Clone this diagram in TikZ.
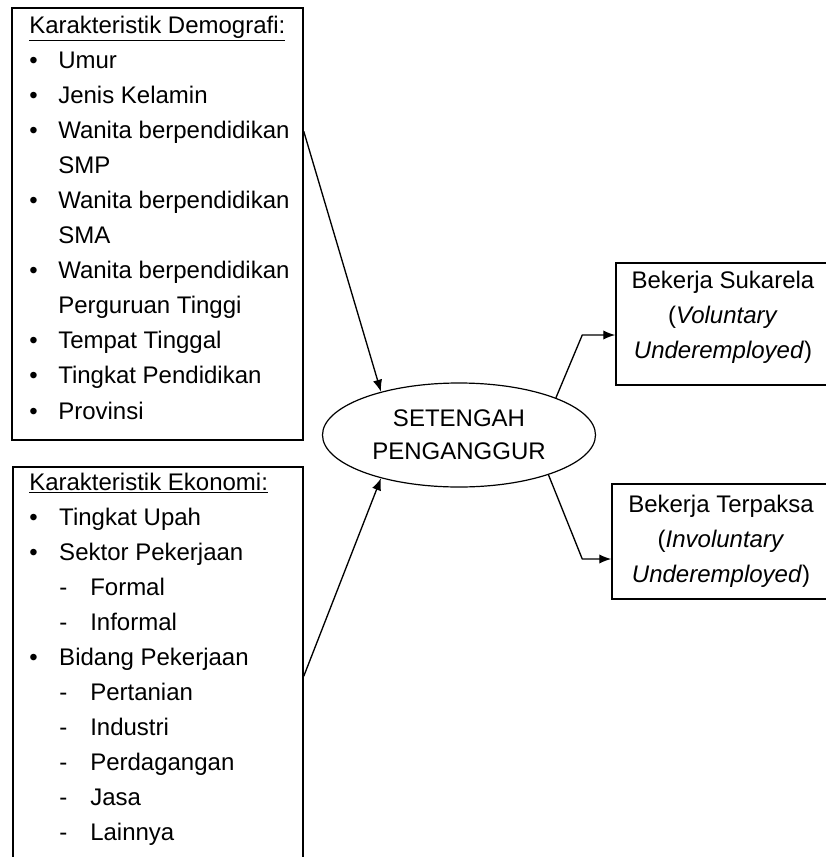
\documentclass[tikz,border=0pt]{standalone}
\usepackage{fontspec}
\setmainfont{Liberation Sans}
\usetikzlibrary{arrows.meta,shapes.geometric,calc}
\begin{document}
\begin{tikzpicture}[x=0.75pt,y=-0.75pt,
    txt/.style={font=\fontsize{18}{26.3}\selectfont},
    kotak/.style={draw,line width=1.1pt,inner sep=0pt},
    panah/.style={-{Latex[length=9pt,width=7pt]},line width=1pt}]
    \useasboundingbox (0,0) rectangle (825,857);

    % Kotak kiri
    \node[kotak,minimum width=218.25pt,minimum height=324pt] (demo) at (157.5,224) {};
    \node[kotak,minimum width=217.5pt,minimum height=302.25pt] (ekonomi) at (158,668.5) {};

    \node[txt,anchor=north west,inner sep=0pt] (demotxt) at (29,8.5) {%
        \begin{tabular}{@{}p{21.75pt}@{}l@{}}
            \multicolumn{2}{@{}l@{}}{\underline{Karakteristik Demografi:}}\\
            \textbullet & Umur\\
            \textbullet & Jenis Kelamin\\
            \textbullet & Wanita berpendidikan\\
                        & SMP\\
            \textbullet & Wanita berpendidikan\\
                        & SMA\\
            \textbullet & Wanita berpendidikan\\
                        & Perguruan Tinggi\\
            \textbullet & Tempat Tinggal\\
            \textbullet & Tingkat Pendidikan\\
            \textbullet & Provinsi
        \end{tabular}};

    \node[txt,anchor=north west,inner sep=0pt] (ekonomitxt) at (29,465.5) {%
        \begin{tabular}{@{}p{22.5pt}@{}l@{}}
            \multicolumn{2}{@{}l@{}}{\underline{Karakteristik Ekonomi:}}\\
            \textbullet & Tingkat Upah\\
            \textbullet & Sektor Pekerjaan\\
                        & \makebox[23.25pt][l]{-}Formal\\
                        & \makebox[23.25pt][l]{-}Informal\\
            \textbullet & Bidang Pekerjaan\\
                        & \makebox[23.25pt][l]{-}Pertanian\\
                        & \makebox[23.25pt][l]{-}Industri\\
                        & \makebox[23.25pt][l]{-}Perdagangan\\
                        & \makebox[23.25pt][l]{-}Jasa\\
                        & \makebox[23.25pt][l]{-}Lainnya
        \end{tabular}};

    % Tengah
    \node[ellipse,draw,line width=0.9pt,inner sep=0pt,minimum width=204.75pt,minimum height=78pt,
        txt,align=center,font=\fontsize{18}{24.75}\selectfont] (setengah) at (459,435) {SETENGAH\\PENGANGGUR};

    % Kotak kanan
    \node[kotak,txt,align=center,minimum width=160.5pt,minimum height=91.5pt,text depth=14pt] (sukarela) at (723,324)
        {Bekerja Sukarela\\(\textit{Voluntary}\\\textit{Underemployed})};
    \node[kotak,txt,align=center,minimum width=163.5pt,minimum height=86.25pt] (terpaksa) at (721,541.5)
        {Bekerja Terpaksa\\(\textit{Involuntary}\\\textit{Underemployed})};

    % Panah
    \draw[panah] ($(demo.north east)+(0,124)$) -- (setengah.151);
    \draw[panah] ($(ekonomi.north east)+(0,210)$) -- (setengah.209);
    \draw[panah] (setengah.21) -- ($(sukarela.west)+(-33,11)$) -- ($(sukarela.west)+(0,11)$);
    \draw[panah] (setengah.336) -- ($(terpaksa.west)+(-29,17.5)$) -- ($(terpaksa.west)+(0,17.5)$);
\end{tikzpicture}
\end{document}
